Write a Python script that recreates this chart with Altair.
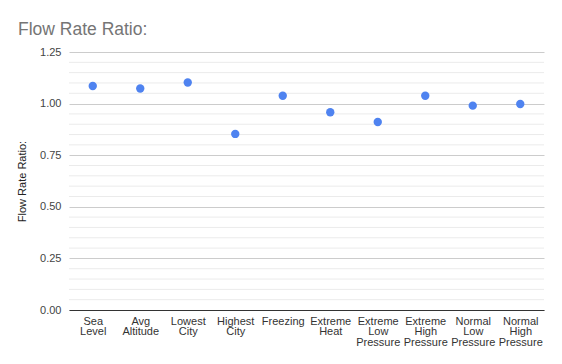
import altair as alt
import pandas as pd

categories = ["Sea Level", "Avg Altitude", "Lowest City", "Highest City", "Freezing",
              "Extreme Heat", "Extreme Low Pressure", "Extreme High Pressure",
              "Normal Low Pressure", "Normal High Pressure"]
ratios = [1.085, 1.073, 1.102, 0.853, 1.038, 0.958, 0.911, 1.038, 0.990, 0.998]
major_ticks = [0, 0.25, 0.5, 0.75, 1.0, 1.25]
minor_ticks = [0.05, 0.10, 0.15, 0.20, 0.30, 0.35, 0.40, 0.45, 0.55, 0.60, 0.65, 0.70,
               0.80, 0.85, 0.90, 0.95, 1.05, 1.10, 1.15, 1.20]

df = pd.DataFrame({"cat": categories, "ratio": ratios})
minor_df = pd.DataFrame({"v": minor_ticks})

FONT = "Liberation Sans"
yscale = alt.Scale(domain=[0, 1.25], nice=False, zero=True)
yaxis = alt.Axis(values=major_ticks, format=".2f", domain=False, ticks=False,
                 grid=True, gridColor="#cccccc", labelFont=FONT,
                 labelFontSize=11, labelColor="#444444", labelPadding=8,
                 titleFont=FONT, titleFontSize=11, titleFontWeight="normal",
                 titleColor="#222222", titlePadding=12)

minor = alt.Chart(minor_df).mark_rule(color="#ebebeb", strokeWidth=1).encode(
    y=alt.Y("v:Q", scale=yscale, axis=yaxis, title="Flow Rate Ratio:")
)

points = alt.Chart(df).mark_circle(size=70, opacity=1, color="#4f83f0").encode(
    x=alt.X("cat:N", sort=categories, title=None,
            axis=alt.Axis(labelExpr="split(datum.label, ' ')", labelAngle=0,
                          labelFont=FONT, labelFontSize=11, labelColor="#333333",
                          labelLineHeight=10.5, labelPadding=5, ticks=False,
                          domainColor="#333333", domainWidth=1, grid=False,
                          labelBaseline="top")),
    y=alt.Y("ratio:Q", scale=yscale, title="Flow Rate Ratio:", axis=yaxis),
)

chart = alt.layer(minor, points).resolve_scale(y="shared").properties(
    width=475, height=258,
    autosize=alt.AutoSizeParams(type="none"),
    padding={"left": 61, "top": 44, "right": 10, "bottom": 50},
    title=alt.TitleParams("Flow Rate Ratio:", anchor="start", frame="group",
                          font=FONT, fontSize=17.5, fontWeight="normal",
                          color="#757575", dx=-51, dy=-4),
).configure(background="white").configure_view(stroke=None)

chart.save("out.html", embed_options={"renderer": "svg", "actions": False})
